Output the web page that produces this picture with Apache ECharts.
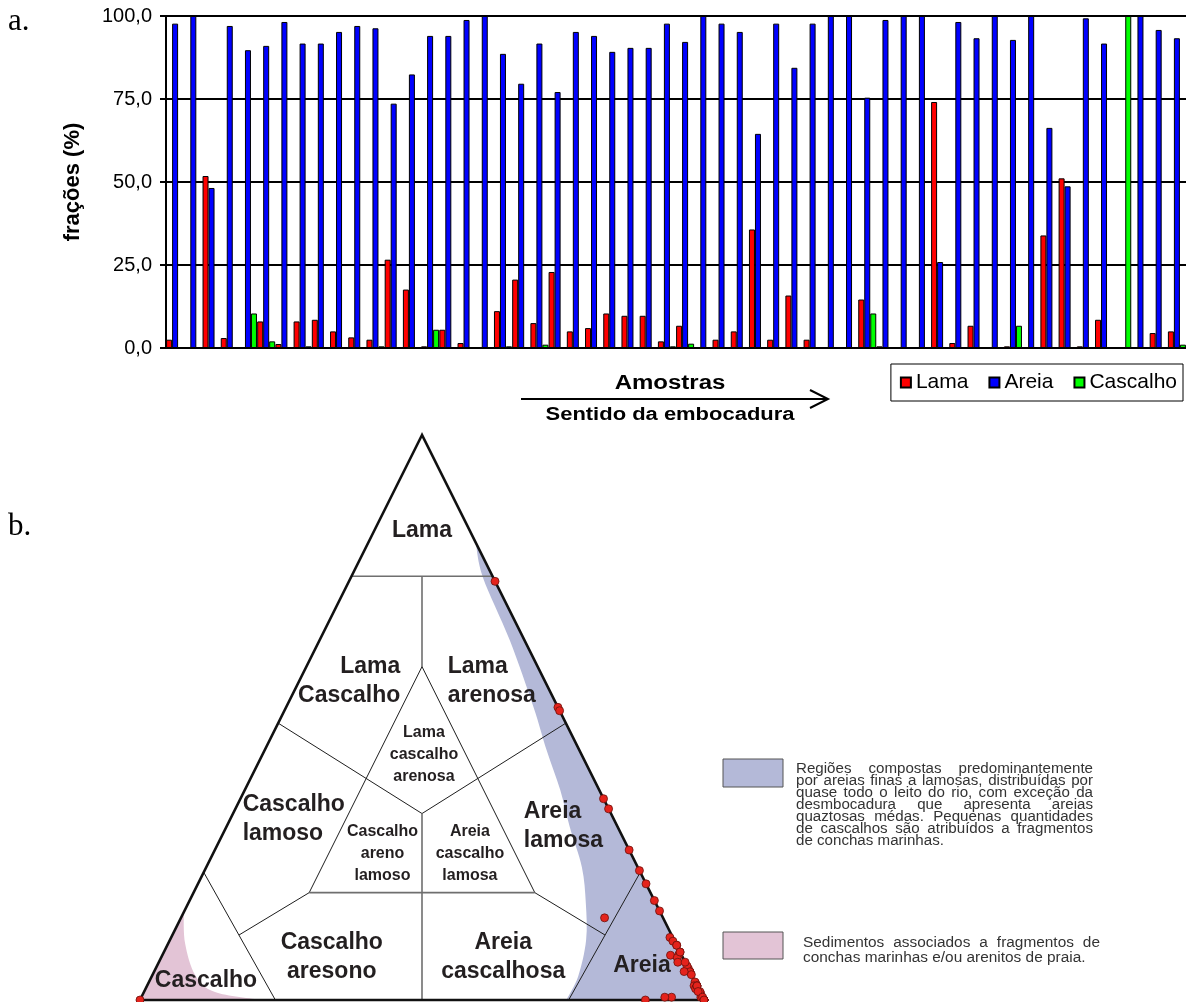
<!DOCTYPE html>
<html>
<head>
<meta charset="utf-8">
<script src="https://cdn.jsdelivr.net/npm/echarts@6/dist/echarts.min.js"></script>
<style>
  html, body { margin: 0; padding: 0; background: #fff; }
  #chart { width: 1186px; height: 1002px; }
</style>
</head>
<body>
<div id="chart"></div>
<script>
// ---- Sample compositions (%), ordered towards the river mouth ----
const samples = ['P01','P02','P03','P04','P05','P06','P07','P08','P09','P10',
  'P11','P12','P13','P14','P15','P16','P17','P18','P19','P20',
  'P21','P22','P23','P24','P25','P26','P27','P28','P29','P30',
  'P31','P32','P33','P34','P35','P36','P37','P38','P39','P40',
  'P41','P42','P43','P44','P45','P46','P47','P48','P49','P50',
  'P51','P52','P53','P54','P55','P56'];

const lama = [2.5, 0, 51.8, 3.0, 0, 8.0, 1.2, 8.0, 8.5, 5.0,
  3.2, 2.5, 26.6, 17.6, 0.5, 5.5, 1.5, 0, 11.1, 20.6,
  7.5, 22.9, 5.0, 6.0, 10.4, 9.7, 9.7, 2.0, 6.7, 0,
  2.5, 5.0, 35.7, 2.5, 15.8, 2.5, 0, 0, 14.6, 0.5,
  0, 0, 74.1, 1.5, 6.7, 0, 0.5, 0, 33.9, 51.1,
  0.5, 8.5, 0, 0, 4.5, 5.0];

const areia = [97.7, 100, 48.2, 97.0, 89.7, 91.0, 98.2, 91.7, 91.7, 95.2,
  97.0, 96.3, 73.6, 82.4, 94.0, 94.0, 98.8, 100, 88.6, 79.6,
  91.7, 77.1, 95.2, 94.0, 89.2, 90.4, 90.4, 97.7, 92.2, 100,
  97.7, 95.2, 64.5, 97.7, 84.4, 97.7, 100, 100, 75.4, 98.8,
  100, 100, 25.9, 98.2, 93.3, 100, 92.8, 100, 66.3, 48.7,
  99.3, 91.7, 0, 100, 95.8, 93.3];

const cascalho = [0, 0, 0, 0, 10.4, 2.0, 0, 0.5, 0, 0,
  0, 0.5, 0, 0, 5.5, 0, 0, 0, 0.5, 0,
  1.0, 0, 0, 0, 0.3, 0, 0, 0.5, 1.3, 0,
  0, 0, 0, 0, 0, 0, 0, 0, 10.4, 0.3,
  0, 0, 0, 0.3, 0, 0, 6.7, 0, 0, 0,
  0, 0, 100, 0, 0, 1.0];

const yTickLabels = ['0,0', '25,0', '50,0', '75,0', '100,0'];

// ---- Ternary classes: boundaries given as [lama, areia, cascalho] ----
const classLines = [
  { from: [75, 0, 25],        to: [75, 25, 0],        kind: 'main' },
  { from: [75, 12.5, 12.5],   to: [59, 20.5, 20.5],   kind: 'main' },
  { from: [59, 20.5, 20.5],   to: [19, 20.5, 60.5],   kind: 'thin' },
  { from: [59, 20.5, 20.5],   to: [19, 60.5, 20.5],   kind: 'thin' },
  { from: [49, 0, 51],        to: [33, 33.5, 33.5],   kind: 'thin' },
  { from: [33, 33.5, 33.5],   to: [49, 51, 0],        kind: 'thin' },
  { from: [19, 20.5, 60.5],   to: [19, 60.5, 20.5],   kind: 'main' },
  { from: [33, 33.5, 33.5],   to: [0, 50, 50],        kind: 'main' },
  { from: [19, 20.5, 60.5],   to: [11.5, 11.8, 76.7], kind: 'thin' },
  { from: [19, 60.5, 20.5],   to: [11.5, 76.7, 11.8], kind: 'thin' },
  { from: [22.6, 0, 77.4],    to: [0, 24, 76],        kind: 'thin' },
  { from: [22.6, 77.4, 0],    to: [0, 76, 24],        kind: 'thin' }
];

// Sandy band along the Lama–Areia edge (inner boundary, top to bottom)
const sandBand = [[80.9, 19.1, 0], [74.8, 23.4, 1.8], [63.7, 33.7, 2.6], [51.9, 43.8, 4.3],
  [44.2, 50.0, 5.8], [37.2, 55.9, 6.9], [30.6, 60.9, 8.5], [23.5, 66.6, 9.9],
  [17.1, 70.5, 12.4], [10.6, 73.8, 15.6], [4.2, 75.6, 20.2], [0, 75.6, 24.4]];

// Shell-fragment zone near the Cascalho corner (inner boundary)
const shellZone = [[15.5, 0, 84.5], [10.0, 3.0, 87.0], [4.4, 7.6, 88.0], [1.4, 12.6, 86.0], [0, 21.5, 78.5]];

const classLabels = [
  { text: 'Lama', at: [83, 8.5, 8.5], align: 'center', big: true },
  { text: 'Lama\nCascalho', at: [56.5, 17.9, 25.6], align: 'right', big: true },
  { text: 'Lama\narenosa', at: [56.5, 26.3, 17.2], align: 'left', big: true },
  { text: 'Lama\ncascalho\narenosa', at: [43.5, 28.6, 27.9], align: 'center', big: false },
  { text: 'Cascalho\nlamoso', at: [32.0, 2.2, 65.8], align: 'left', big: true },
  { text: 'Cascalho\nareno\nlamoso', at: [26.0, 30.0, 44.0], align: 'center', big: false },
  { text: 'Areia\ncascalho\nlamosa', at: [26.0, 45.5, 28.5], align: 'center', big: false },
  { text: 'Areia\nlamosa', at: [30.7, 52.7, 16.6], align: 'left', big: true },
  { text: 'Cascalho\naresono', at: [7.6, 30.2, 62.2], align: 'center', big: true },
  { text: 'Areia\ncascalhosa', at: [7.6, 60.6, 31.8], align: 'center', big: true },
  { text: 'Areia', at: [6.0, 86.0, 8.0], align: 'center', big: true },
  { text: 'Cascalho', at: [3.4, 10.0, 86.6], align: 'center', big: true }
];

const note1 = ['Regiões compostas predominantemente',
  'por areias finas a lamosas, distribuídas por',
  'quase todo o leito do rio, com exceção da',
  'desmbocadura que apresenta areias',
  'quaztosas médas. Pequenas quantidades',
  'de cascalhos são atribuídos a fragmentos',
  'de conchas marinhas.'];
const note2 = ['Sedimentos associados a fragmentos de',
  'conchas marinhas e/ou arenitos de praia.'];

// ---- helpers ----
const SANS = '"Liberation Sans", Arial, Helvetica, sans-serif';
const SERIF = '"Liberation Serif", "Times New Roman", serif';
const BAND = '#b4b9d8';
const SHELL = '#e3c4d6';

// ternary point -> [x = areia - cascalho, y = lama], normalised to 100
function ternXY(l, a, c) {
  const t = l + a + c;
  return [(a - c) / t * 100, l / t * 100];
}
const ternPoints = samples.map((s, i) => ternXY(lama[i], areia[i], cascalho[i]));

// Catmull-Rom spline through pixel points as SVG cubic segments
function splinePath(pts) {
  let d = '';
  for (let i = 0; i < pts.length - 1; i++) {
    const p0 = pts[Math.max(i - 1, 0)], p1 = pts[i], p2 = pts[i + 1], p3 = pts[Math.min(i + 2, pts.length - 1)];
    const c1 = [p1[0] + (p2[0] - p0[0]) / 6, p1[1] + (p2[1] - p0[1]) / 6];
    const c2 = [p2[0] - (p3[0] - p1[0]) / 6, p2[1] - (p3[1] - p1[1]) / 6];
    d += ' C' + c1[0].toFixed(2) + ' ' + c1[1].toFixed(2) + ' ' + c2[0].toFixed(2) + ' ' + c2[1].toFixed(2) + ' ' + p2[0].toFixed(2) + ' ' + p2[1].toFixed(2);
  }
  return d;
}

function textStyle(text, font, fill, align, vAlign, extra) {
  return Object.assign({ text: text, font: font, fill: fill, align: align, verticalAlign: vAlign,
    textAlign: align, textVerticalAlign: vAlign }, extra || {});
}

// justified paragraph lines drawn word by word
const measureCtx = document.createElement('canvas').getContext('2d');
function paragraph(lines, x, y0, step, width, font, sx) {
  measureCtx.font = font;
  const els = [];
  lines.forEach((line, li) => {
    const words = line.split(' ');
    const ws = words.map(w => measureCtx.measureText(w).width * sx);
    const total = ws.reduce((a, b) => a + b, 0);
    const last = li === lines.length - 1;
    const gap = (!last && words.length > 1) ? (width - total) / (words.length - 1)
      : measureCtx.measureText(' ').width * sx;
    let cx = x;
    words.forEach((w, wi) => {
      els.push({ type: 'text', x: cx, y: y0 + li * step, scaleX: sx, silent: true,
        style: textStyle(w, font, '#333', 'left', 'middle') });
      cx += ws[wi] + gap;
    });
  });
  return els;
}

function renderTernary(params, api) {
  const P = c => api.coord(ternXY(c[0], c[1], c[2]));
  const apex = P([100, 0, 0]), bl = P([0, 0, 100]), br = P([0, 100, 0]);
  const kids = [];

  // sandy band
  const bandPts = sandBand.map(P);
  let d = 'M' + bandPts[0][0] + ' ' + bandPts[0][1] + splinePath(bandPts) +
    ' L' + br[0] + ' ' + br[1] + ' Z';
  kids.push({ type: 'path', shape: { pathData: d }, style: { fill: BAND, stroke: null } });

  // shell zone
  const shellPts = shellZone.map(P);
  d = 'M' + shellPts[0][0] + ' ' + shellPts[0][1] + splinePath(shellPts) +
    ' L' + bl[0] + ' ' + bl[1] + ' Z';
  kids.push({ type: 'path', shape: { pathData: d }, style: { fill: SHELL, stroke: null } });

  // class boundaries
  classLines.forEach(l => {
    const a = P(l.from), b = P(l.to);
    kids.push({ type: 'line', shape: { x1: a[0], y1: a[1], x2: b[0], y2: b[1] },
      style: l.kind === 'main' ? { stroke: '#6f6f6f', lineWidth: 1.6 } : { stroke: '#1e1e1e', lineWidth: 1 } });
  });

  // outer triangle
  kids.push({ type: 'polygon', shape: { points: [apex, bl, br] },
    style: { fill: null, stroke: '#111', lineWidth: 2.6, lineJoin: 'miter' } });

  // class names
  classLabels.forEach(lb => {
    const p = P(lb.at);
    kids.push({ type: 'text', x: p[0], y: p[1],
      style: textStyle(lb.text, lb.big ? 'bold 23px ' + SANS : 'bold 16px ' + SANS, '#231f20',
        lb.align, 'middle', { lineHeight: lb.big ? 29 : 22 }) });
  });
  return { type: 'group', children: kids };
}

const chart = echarts.init(document.getElementById('chart'), null, { renderer: 'canvas' });

const barStyle = color => ({ color: color, borderColor: '#000', borderWidth: 1 });

const option = {
  animation: false,
  backgroundColor: '#ffffff',
  textStyle: { fontFamily: SANS },
  grid: [
    { left: 166, top: 16, width: 1020, height: 332, containLabel: false, outerBoundsMode: 'none' },
    { left: 140, top: 435, width: 564, height: 565, containLabel: false, outerBoundsMode: 'none' }
  ],
  xAxis: [
    { type: 'category', gridIndex: 0, data: samples,
      axisLine: { lineStyle: { color: '#000', width: 2 } },
      axisTick: { show: false }, axisLabel: { show: false }, splitLine: { show: false } },
    { type: 'value', gridIndex: 1, min: -100, max: 100, show: false }
  ],
  yAxis: [
    { type: 'value', gridIndex: 0, min: 0, max: 100, interval: 25,
      name: 'frações (%)', nameLocation: 'middle', nameGap: 82, nameRotate: 90,
      nameTextStyle: { fontWeight: 'bold', fontSize: 22, color: '#000', fontFamily: SANS },
      axisLine: { show: true, lineStyle: { color: '#000', width: 2 } },
      axisTick: { show: true, length: 6, lineStyle: { color: '#000', width: 2 } },
      axisLabel: { margin: 14, fontSize: 20, color: '#000', fontFamily: SANS,
        formatter: v => yTickLabels[Math.round(v / 25)] },
      splitLine: { show: true, lineStyle: { color: '#000', width: 2 } } },
    { type: 'value', gridIndex: 1, min: 0, max: 100, show: false }
  ],
  legend: {
    data: ['Lama', 'Areia', 'Cascalho'],
    right: 3, top: 364,
    icon: 'rect', itemWidth: 10, itemHeight: 10, itemGap: 20,
    borderColor: '#000', borderWidth: 1, borderRadius: 0,
    padding: [8, 6, 8, 9],
    selectedMode: false,
    textStyle: { fontSize: 21, color: '#000', fontFamily: SANS }
  },
  series: [
    { name: 'Lama', type: 'bar', xAxisIndex: 0, yAxisIndex: 0, data: lama,
      barWidth: 6, barGap: '0%', itemStyle: barStyle('#ff0000') },
    { name: 'Areia', type: 'bar', xAxisIndex: 0, yAxisIndex: 0, data: areia,
      barWidth: 6, barGap: '0%', itemStyle: barStyle('#0000ff') },
    { name: 'Cascalho', type: 'bar', xAxisIndex: 0, yAxisIndex: 0, data: cascalho,
      barWidth: 6, barGap: '0%', itemStyle: barStyle('#00ff00') },
    { name: 'Classes texturais', type: 'custom', xAxisIndex: 1, yAxisIndex: 1,
      data: [[0, 0]], clip: false, silent: true, z: 1, renderItem: renderTernary },
    { name: 'Amostras', type: 'scatter', xAxisIndex: 1, yAxisIndex: 1, data: ternPoints,
      symbol: 'circle', symbolSize: 8, clip: false, z: 5,
      itemStyle: { color: '#e4231c', borderColor: '#6b120d', borderWidth: 0.8, opacity: 1 } }
  ],
  graphic: [
    { type: 'text', x: 8, y: 22, silent: true, style: textStyle('a.', '31px ' + SERIF, '#000', 'left', 'middle') },
    { type: 'text', x: 8, y: 527, silent: true, style: textStyle('b.', '31px ' + SERIF, '#000', 'left', 'middle') },
    { type: 'text', x: 670, y: 383, scaleX: 1.2, silent: true,
      style: textStyle('Amostras', 'bold 20px ' + SANS, '#000', 'center', 'middle') },
    { type: 'line', silent: true, shape: { x1: 521, y1: 399, x2: 827, y2: 399 }, style: { stroke: '#000', lineWidth: 2 } },
    { type: 'polyline', silent: true, shape: { points: [[810, 390], [828, 399], [810, 408]] },
      style: { stroke: '#000', lineWidth: 2, fill: null } },
    { type: 'text', x: 670, y: 415, scaleX: 1.22, silent: true,
      style: textStyle('Sentido da embocadura', 'bold 18px ' + SANS, '#000', 'center', 'middle') },
    { type: 'rect', silent: true, shape: { x: 723, y: 759, width: 60, height: 28 },
      style: { fill: BAND, stroke: '#555', lineWidth: 1 } },
    { type: 'rect', silent: true, shape: { x: 723, y: 932, width: 60, height: 27 },
      style: { fill: SHELL, stroke: '#555', lineWidth: 1 } }
  ].concat(
    paragraph(note1, 796, 769, 12, 297, '14px ' + SANS, 1.08),
    paragraph(note2, 803, 943.5, 15, 297, '14px ' + SANS, 1.1)
  )
};

chart.setOption(option);
</script>
</body>
</html>
